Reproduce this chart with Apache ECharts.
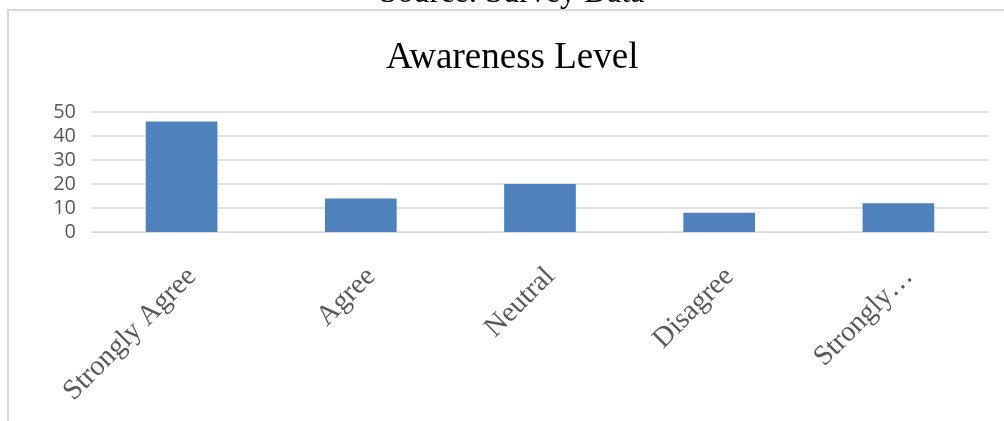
<!DOCTYPE html>
<html>
<head>
<meta charset="utf-8">
<title>Awareness Level</title>
<script src="https://cdn.jsdelivr.net/npm/echarts@6/dist/echarts.min.js"></script>
<style>
  html, body { margin: 0; padding: 0; background: #fff; }
  #chart { width: 1004px; height: 421px; }
</style>
</head>
<body>
<div id="chart"></div>
<script>
// 数据
var categories = ['Strongly Agree', 'Agree', 'Neutral', 'Disagree', 'Strongly Disagree']
var counts = [46, 14, 20, 8, 12]
var yTicks = { min: 0, max: 50, interval: 10 }

var serif = '"Liberation Serif", "Times New Roman", serif'
var sans = '"Open Sans", "Liberation Sans", sans-serif'

var dom = echarts.init(document.getElementById('chart'))

dom.setOption({
  animation: false,
  backgroundColor: '#fff',
  title: {
    text: 'Awareness Level',
    left: 381,
    top: 35,
    textStyle: { fontFamily: serif, fontSize: 37, fontWeight: 'normal', color: '#000' }
  },
  graphic: [
    // 外框
    {
      type: 'rect',
      shape: { x: 8, y: 10, width: 1100, height: 500 },
      style: { fill: 'none', stroke: '#d9d9d9', lineWidth: 2 },
      silent: true
    },
    // 上方被截断的来源说明
    {
      type: 'text',
      x: 512,
      y: -22,
      style: {
        text: 'Source: Survey Data',
        font: '32px ' + serif,
        fill: '#000',
        textAlign: 'center',
        textVerticalAlign: 'top'
      },
      silent: true
    }
  ],
  grid: { left: 92, right: 16, top: 112, bottom: 189 },
  xAxis: {
    type: 'category',
    data: categories,
    axisLine: { show: true, lineStyle: { color: '#d9d9d9', width: 1 } },
    axisTick: { show: false },
    axisLabel: {
      rotate: 45,
      interval: 0,
      margin: 30,
      verticalAlign: 'top',
      color: '#595959',
      fontFamily: serif,
      fontSize: 28.5,
      formatter: function(v) {
        return v.length > 14 ? v.split(' ')[0] + '…' : v
      }
    }
  },
  yAxis: {
    type: 'value',
    min: yTicks.min,
    max: yTicks.max,
    interval: yTicks.interval,
    axisLine: { show: false },
    axisTick: { show: false },
    splitLine: { lineStyle: { color: '#d9d9d9', width: 1.5 } },
    axisLabel: { color: '#595959', fontFamily: sans, fontSize: 20, margin: 16 }
  },
  series: [
    {
      type: 'bar',
      data: counts,
      barWidth: '40%',
      itemStyle: { color: '#4f81bd' }
    }
  ]
})
</script>
</body>
</html>
